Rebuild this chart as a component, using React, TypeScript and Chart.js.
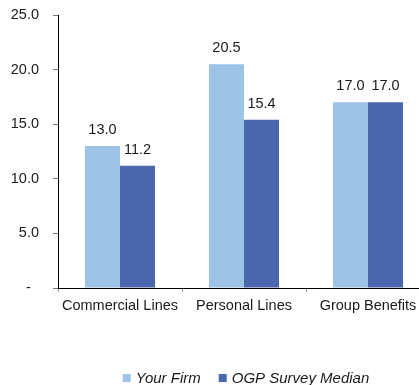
import { useEffect, useRef } from "react";
import { Chart, registerables } from "chart.js";

Chart.register(...registerables);

// Ratios by line of business
const categories = ["Commercial Lines", "Personal Lines", "Group Benefits"];
const yourFirm = [13.0, 20.5, 17.0];
const surveyMedian = [11.2, 15.4, 17.0];
const seriesNames = ["Your Firm", "OGP Survey Median"];
const yMin = 0;
const yMax = 25;
const yStep = 5;

const LIGHT = "#9DC3E6";
const DARK = "#4A66AC";
const TEXT = "#1a1a1a";
const FONT = "'Liberation Sans', Arial, sans-serif";
const SIZE = 14.5;

// Writes each bar's value above it
const valueLabels = {
  id: "valueLabels",
  afterDatasetsDraw(chart: any) {
    const ctx = chart.ctx;
    ctx.save();
    ctx.font = `${SIZE}px ${FONT}`;
    ctx.fillStyle = TEXT;
    ctx.textAlign = "center";
    ctx.textBaseline = "middle";
    chart.data.datasets.forEach((ds: any, i: number) => {
      const meta = chart.getDatasetMeta(i);
      meta.data.forEach((bar: any, j: number) => {
        ctx.fillText(Number(ds.data[j]).toFixed(1), bar.x, bar.y - 16);
      });
    });
    ctx.restore();
  },
};

// Legend row under the axis: square swatch + italic label
const bottomLegend = {
  id: "bottomLegend",
  afterDraw(chart: any) {
    const ctx = chart.ctx;
    ctx.save();
    ctx.font = `italic 15px ${FONT}`;
    const box = 8;
    const gapText = 5;
    const gapItem = 18;
    const widths = seriesNames.map((n) => ctx.measureText(n).width);
    const total =
      widths.reduce((a, w) => a + box + gapText + w, 0) + gapItem * (seriesNames.length - 1);
    let x = 246 - total / 2;
    const baseline = 383;
    const colors = [LIGHT, DARK];
    seriesNames.forEach((name, i) => {
      ctx.fillStyle = colors[i];
      ctx.fillRect(x, 374, box, box);
      x += box + gapText;
      ctx.fillStyle = TEXT;
      ctx.textAlign = "left";
      ctx.textBaseline = "alphabetic";
      ctx.fillText(name, x, baseline);
      x += widths[i] + gapItem;
    });
    ctx.restore();
  },
};

export default function App() {
  const ref = useRef<HTMLCanvasElement | null>(null);

  useEffect(() => {
    if (!ref.current) return;
    const chart = new Chart(ref.current, {
      type: "bar",
      data: {
        labels: categories,
        datasets: [
          {
            label: seriesNames[0],
            data: yourFirm,
            backgroundColor: LIGHT,
            categoryPercentage: 0.565,
            barPercentage: 1,
          },
          {
            label: seriesNames[1],
            data: surveyMedian,
            backgroundColor: DARK,
            categoryPercentage: 0.565,
            barPercentage: 1,
          },
        ],
      },
      options: {
        responsive: false,
        animation: false,
        devicePixelRatio: 1,
        layout: { padding: { top: 15, right: 0, bottom: 0, left: 0 } },
        plugins: {
          legend: { display: false },
          tooltip: { enabled: false },
        },
        scales: {
          x: {
            offset: true,
            grid: {
              display: true,
              drawOnChartArea: false,
              drawTicks: true,
              tickLength: 4,
              color: "#999",
              offset: true,
            },
            border: { display: true, color: "#000", width: 1 },
            ticks: {
              color: TEXT,
              font: { family: FONT, size: SIZE },
              padding: 5,
              maxRotation: 0,
              autoSkip: false,
            },
            afterFit: (s: any) => {
              s.height = 97;
            },
          },
          y: {
            min: yMin,
            max: yMax,
            grid: {
              display: true,
              drawOnChartArea: false,
              drawTicks: true,
              tickLength: 5,
              color: "#777",
            },
            border: { display: true, color: "#000", width: 1 },
            ticks: {
              stepSize: yStep,
              color: TEXT,
              font: { family: FONT, size: SIZE },
              padding: 14,
              callback: (v: any) => (Number(v) === 0 ? "-  " : Number(v).toFixed(1)),
            },
            afterFit: (s: any) => {
              s.width = 58;
              s.paddingTop = 0;
              s.paddingBottom = 0;
            },
          },
        },
      },
      plugins: [valueLabels, bottomLegend],
    });
    return () => chart.destroy();
  }, []);

  return (
    <div
      style={{
        position: "absolute",
        left: 0,
        top: 0,
        width: 419,
        height: 385,
        overflow: "hidden",
        background: "#fff",
      }}
    >
      <canvas ref={ref} width={430} height={385} style={{ display: "block" }} />
    </div>
  );
}
